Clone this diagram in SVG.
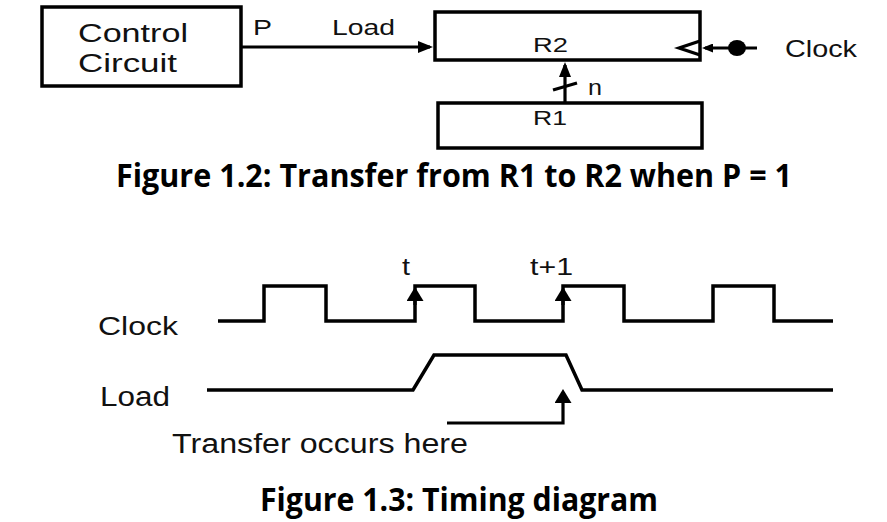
<svg xmlns="http://www.w3.org/2000/svg" width="887" height="522" viewBox="0 0 887 522">
<style>
.box{fill:#fff;stroke:#000;stroke-width:3.5}
.ln{fill:none;stroke:#000;stroke-width:3.2;stroke-linejoin:miter}
.wave{fill:none;stroke:#000;stroke-width:3.5;stroke-linejoin:miter}
.lb{font-family:"Liberation Sans",Arial,sans-serif;fill:#111}
.cap{font-family:"Open Sans","Noto Sans",sans-serif;font-weight:bold;fill:#000}
</style>
<defs>
<marker id="arr" markerUnits="userSpaceOnUse" viewBox="0 0 15 12" refX="12" refY="6" markerWidth="15" markerHeight="12" orient="auto">
<path d="M0,0 L15,6 L0,12 Z" fill="#000"/>
</marker>
<marker id="arrS" markerUnits="userSpaceOnUse" viewBox="0 0 11 9" refX="8" refY="4.5" markerWidth="11" markerHeight="9" orient="auto">
<path d="M0,0 L11,4.5 L0,9 Z" fill="#000"/>
</marker>
<marker id="arrB" markerUnits="userSpaceOnUse" viewBox="0 0 14 17" refX="11" refY="8.5" markerWidth="14" markerHeight="17" orient="auto">
<path d="M0,0 L14,8.5 L0,17 Z" fill="#000"/>
</marker>
</defs>

<g id="control-circuit">
<rect class="box" x="42" y="7" width="199" height="79"/>
<text class="lb" x="78" y="42" font-size="26" textLength="110" lengthAdjust="spacingAndGlyphs">Control</text>
<text class="lb" x="78" y="72" font-size="26" textLength="99" lengthAdjust="spacingAndGlyphs">Circuit</text>
</g>

<g id="R2">
<rect class="box" x="435" y="12" width="265" height="48"/>
<text class="lb" x="533" y="52" font-size="21" textLength="35" lengthAdjust="spacingAndGlyphs">R2</text>
<path class="ln" d="M700,41 L679,48 L700,55"/>
</g>

<g id="R1">
<rect class="box" x="438" y="103" width="264" height="45"/>
<text class="lb" x="533" y="125" font-size="21" textLength="34" lengthAdjust="spacingAndGlyphs">R1</text>
</g>

<g id="clock-source">
<ellipse cx="737" cy="48" rx="9" ry="8" fill="#000"/>
<text class="lb" x="785" y="57" font-size="24" textLength="72" lengthAdjust="spacingAndGlyphs">Clock</text>
</g>

<g id="connectors">
<path class="ln" d="M241,47 H430" marker-end="url(#arr)"/>
<text class="lb" x="253" y="35" font-size="22" textLength="19" lengthAdjust="spacingAndGlyphs">P</text>
<text class="lb" x="332" y="35" font-size="22" textLength="63" lengthAdjust="spacingAndGlyphs">Load</text>
<path class="ln" d="M757,48 H705" marker-end="url(#arrS)"/>
<path class="ln" d="M565,103 V65" marker-end="url(#arr)"/>
<path class="ln" d="M553,90 L577,83"/>
<text class="lb" x="588" y="95" font-size="22" textLength="14" lengthAdjust="spacingAndGlyphs">n</text>
</g>

<text class="cap" x="116" y="187" font-size="33" textLength="676" lengthAdjust="spacingAndGlyphs">Figure 1.2: Transfer from R1 to R2 when P = 1</text>

<g id="timing">
<text class="lb" x="98" y="335" font-size="25" textLength="80" lengthAdjust="spacingAndGlyphs">Clock</text>
<text class="lb" x="100" y="406" font-size="27" textLength="70" lengthAdjust="spacingAndGlyphs">Load</text>
<text class="lb" x="402" y="275" font-size="23" textLength="8" lengthAdjust="spacingAndGlyphs">t</text>
<text class="lb" x="530" y="275" font-size="24" textLength="43" lengthAdjust="spacingAndGlyphs">t+1</text>
<path class="wave" d="M218,321 H264 V286 H326 V321 H415 V286 H475 V321 H563 V286 H624 V321 H713 V286 H774 V321 H833"/>
<path class="wave" d="M207,390 H413 L434,355 H566 L582,390 H833"/>
<path class="ln" d="M415,305 V290" marker-end="url(#arrB)"/>
<path class="ln" d="M563,305 V290" marker-end="url(#arrB)"/>
<path class="ln" d="M447,423 H563 V392" marker-end="url(#arrB)"/>
<text class="lb" x="172" y="453" font-size="27" textLength="296" lengthAdjust="spacingAndGlyphs">Transfer occurs here</text>
</g>

<text class="cap" x="260" y="511" font-size="32" textLength="398" lengthAdjust="spacingAndGlyphs">Figure 1.3: Timing diagram</text>
</svg>
